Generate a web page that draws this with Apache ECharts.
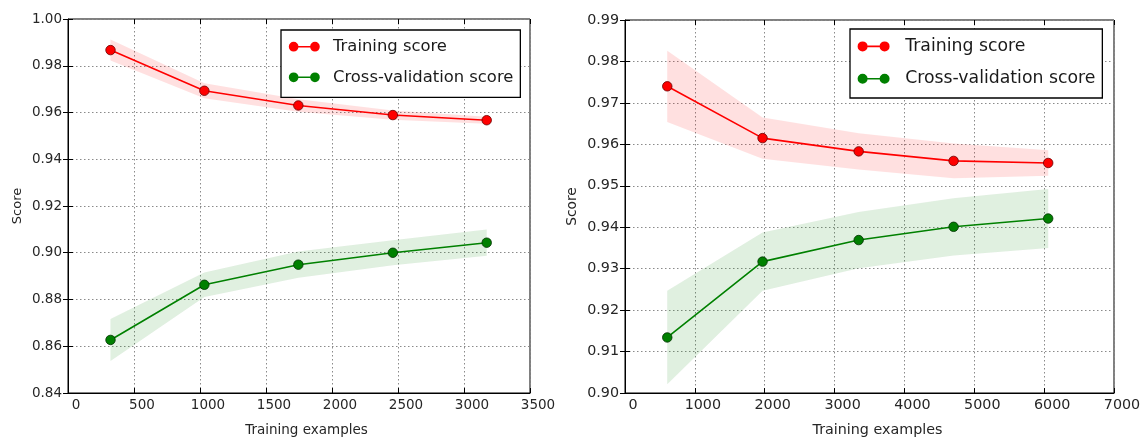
<!DOCTYPE html>
<html>
<head>
<meta charset="utf-8">
<script src="https://cdn.jsdelivr.net/npm/echarts@6/dist/echarts.min.js"></script>
<style>
html,body{margin:0;padding:0;background:#fff;}
#chart{width:1146px;height:442px;}
</style>
</head>
<body>
<div id="chart"></div>
<script>
// ---- Data (left panel) ----
var sizesA = [322, 1033, 1745, 2461, 3172];
var trainMeanA = [0.9867, 0.9693, 0.9630, 0.9589, 0.9567];
var trainStdA = [0.0045, 0.0032, 0.0027, 0.0020, 0.0015];
var cvMeanA = [0.8627, 0.8863, 0.8949, 0.9000, 0.9043];
var cvStdA = [0.0090, 0.0052, 0.0056, 0.0053, 0.0056];
var xTicksA = {min: 0, max: 3500, interval: 500};
var yTicksA = {min: 0.84, max: 1.00, interval: 0.02};

// ---- Data (right panel) ----
var sizesB = [605, 1969, 3345, 4704, 6058];
var trainMeanB = [0.9740, 0.9615, 0.9583, 0.9560, 0.9555];
var trainStdB = [0.0086, 0.0050, 0.0044, 0.0042, 0.0031];
var cvMeanB = [0.9134, 0.9317, 0.9369, 0.9401, 0.9421];
var cvStdB = [0.0113, 0.0070, 0.0068, 0.0069, 0.0071];
var xTicksB = {min: 0, max: 7000, interval: 1000};
var yTicksB = {min: 0.90, max: 0.99, interval: 0.01};

var seriesNames = ['Training score', 'Cross-validation score'];
var xTitle = 'Training examples';
var yTitle = 'Score';

var FONT = 'DejaVu Sans';
var RED = '#ff0000', GREEN = '#008000';
var LEGEND_ICON = 'path://M0,5A5,5,0,1,1,10,5A5,5,0,1,1,0,5ZM22,5A5,5,0,1,1,32,5A5,5,0,1,1,22,5ZM9,4.2L23,4.2L23,5.8L9,5.8Z';

function pairs(xs, ys) { return xs.map(function (x, i) { return [x, ys[i]]; }); }

function bandSeries(idx, xs, mean, std, color) {
  var data = xs.map(function (x, i) { return [x, mean[i] - std[i], mean[i] + std[i]]; });
  return {
    type: 'custom', xAxisIndex: idx, yAxisIndex: idx, silent: true, z: 1,
    data: data,
    renderItem: function (params, api) {
      if (params.dataIndex !== 0) return null;
      var up = [], lo = [];
      for (var i = 0; i < data.length; i++) {
        up.push(api.coord([data[i][0], data[i][2]]));
        lo.push(api.coord([data[i][0], data[i][1]]));
      }
      var pts = up.concat(lo.reverse());
      return {
        type: 'polygon', shape: {points: pts},
        style: {fill: color, opacity: 0.12, stroke: color, lineWidth: 0.6, strokeOpacity: 0.15}
      };
    }
  };
}
function lineSeries(idx, name, xs, mean, color, edge) {
  return {
    type: 'line', name: name, xAxisIndex: idx, yAxisIndex: idx,
    data: pairs(xs, mean), symbol: 'circle', symbolSize: 9.5,
    lineStyle: {color: color, width: 1.6},
    itemStyle: {color: color, borderColor: edge, borderWidth: 0.8},
    z: 3
  };
}

var tickLabel = '#262626';
function xAxisMain(gi, t, fs, shift, nameShift) {
  return {
    type: 'value', gridIndex: gi, position: 'bottom', min: t.min, max: t.max, interval: t.interval,
    axisLine: {show: true, lineStyle: {color: '#000', width: 1}},
    axisTick: {show: true, inside: true, length: 5, lineStyle: {color: '#000'}},
    axisLabel: {color: tickLabel, fontFamily: FONT, fontSize: fs, margin: 5, padding: [0, 0, 0, shift],
      formatter: function (v) { return String(v); }},
    splitLine: {show: true, lineStyle: {color: '#8a8a8a', type: [1.5, 2.5], width: 1}},
    name: xTitle, nameLocation: 'middle', nameGap: 30,
    nameTextStyle: {color: tickLabel, fontFamily: FONT, fontSize: fs, padding: [0, 0, 0, nameShift]}
  };
}
function xAxisTop(gi, t) {
  return {
    type: 'value', gridIndex: gi, position: 'top', min: t.min, max: t.max, interval: t.interval,
    axisLine: {show: false}, axisLabel: {show: false}, splitLine: {show: false},
    axisTick: {show: true, inside: true, length: 5, lineStyle: {color: '#000'}}
  };
}
function yAxisMain(gi, t, fs, gap) {
  return {
    type: 'value', gridIndex: gi, position: 'left', min: t.min, max: t.max, interval: t.interval,
    axisLine: {show: true, lineStyle: {color: '#000', width: 1}},
    axisTick: {show: true, inside: true, length: 5, lineStyle: {color: '#000'}},
    axisLabel: {color: tickLabel, fontFamily: FONT, fontSize: fs, margin: 6,
      formatter: function (v) { return v.toFixed(2); }},
    splitLine: {show: true, lineStyle: {color: '#8a8a8a', type: [1.5, 2.5], width: 1}},
    name: yTitle, nameLocation: 'middle', nameGap: gap,
    nameTextStyle: {color: tickLabel, fontFamily: FONT, fontSize: fs - 0.5}
  };
}
function yAxisRight(gi, t) {
  return {
    type: 'value', gridIndex: gi, position: 'right', min: t.min, max: t.max, interval: t.interval,
    axisLine: {show: false}, axisLabel: {show: false}, splitLine: {show: false},
    axisTick: {show: true, inside: true, length: 5, lineStyle: {color: '#000'}}
  };
}
function legendBox(left, top, fs, lh, gap, pad, iconW, textPad) {
  return {
    orient: 'vertical', left: left, top: top, data: seriesNames,
    icon: LEGEND_ICON, itemWidth: iconW, itemHeight: 10, itemGap: gap,
    padding: pad, borderColor: '#000', borderWidth: 1.3, borderRadius: 0,
    backgroundColor: '#fff', selectedMode: false,
    itemStyle: {borderWidth: 0},
    textStyle: {color: '#1a1a1a', fontFamily: FONT, fontSize: fs, lineHeight: lh, padding: [0, 0, 0, textPad]}
  };
}

var series = [
  bandSeries(0, sizesA, trainMeanA, trainStdA, RED),
  bandSeries(0, sizesA, cvMeanA, cvStdA, GREEN),
  lineSeries(0, seriesNames[0], sizesA, trainMeanA, RED, '#6a0000'),
  lineSeries(0, seriesNames[1], sizesA, cvMeanA, GREEN, '#003000'),
  bandSeries(1, sizesB, trainMeanB, trainStdB, RED),
  bandSeries(1, sizesB, cvMeanB, cvStdB, GREEN),
  lineSeries(1, seriesNames[0], sizesB, trainMeanB, RED, '#6a0000'),
  lineSeries(1, seriesNames[1], sizesB, cvMeanB, GREEN, '#003000')
];

var option = {
  animation: false,
  backgroundColor: '#fff',
  grid: [
    {left: 68, top: 19, width: 462, height: 374, show: true, borderColor: '#000', borderWidth: 1, backgroundColor: 'transparent'},
    {left: 625, top: 20, width: 489, height: 373, show: true, borderColor: '#000', borderWidth: 1, backgroundColor: 'transparent'}
  ],
  xAxis: [xAxisMain(0, xTicksA, 13.5, 16, 15), xAxisMain(1, xTicksB, 14.3, 16, 16), xAxisTop(0, xTicksA), xAxisTop(1, xTicksB)],
  yAxis: [yAxisMain(0, yTicksA, 13.5, 44), yAxisMain(1, yTicksB, 14.3, 46), yAxisRight(0, yTicksA), yAxisRight(1, yTicksB)],
  legend: [
    legendBox(281, 30, 16.4, 20, 10.6, [6.7, 7, 10, 7.8], 31, 8.2),
    legendBox(850, 29, 17.3, 21, 11.3, [6.9, 7, 8.8, 7.6], 34, 9.6)
  ],
  series: series
};

var chart = echarts.init(document.getElementById('chart'), null, {renderer: 'canvas'});
chart.setOption(option);
</script>
</body>
</html>
